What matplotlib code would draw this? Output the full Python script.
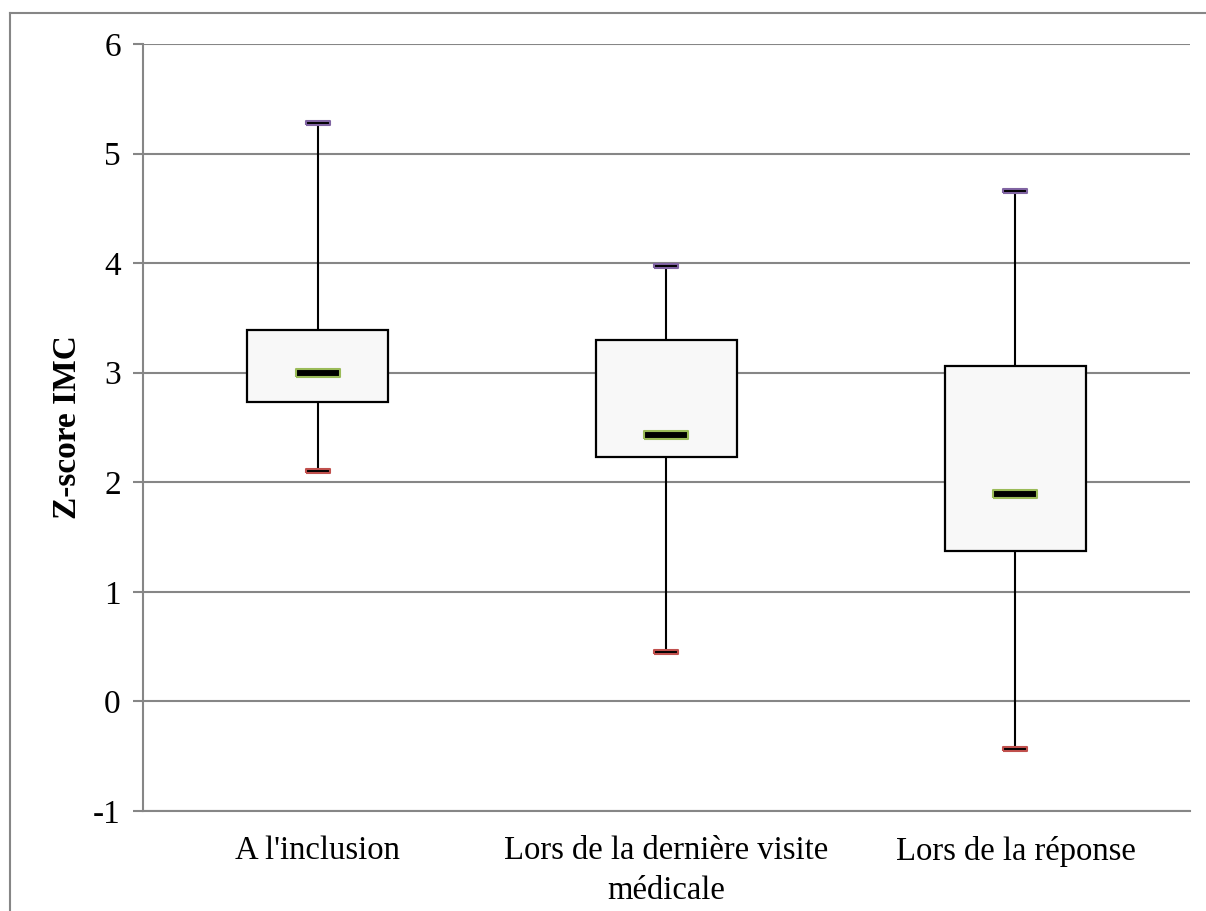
import numpy as np
import matplotlib.pyplot as plt
from matplotlib.lines import Line2D

plt.rcParams['font.family'] = ['Liberation Serif', 'DejaVu Serif']
plt.rcParams['axes.unicode_minus'] = False

# Box-plot summary values (Z-score IMC)
categories = ["A l'inclusion", "Lors de la dernière visite\nmédicale", "Lors de la réponse"]
maxs = [5.28, 3.97, 4.66]
q3s = [3.39, 3.30, 3.06]
medians = [3.00, 2.43, 1.89]
q1s = [2.73, 2.23, 1.37]
mins = [2.10, 0.45, -0.43]

fig = plt.figure(figsize=(12.06, 9.11), dpi=100)
ax = fig.add_axes([0.1186, 0.1098, 0.8681, 0.8419])

x = np.arange(len(categories))

# grid
ax.set_axisbelow(True)
ax.yaxis.grid(True, color='#868686', linewidth=1.5)

# whiskers
ax.vlines(x, mins, maxs, color='black', linewidth=1.5, zorder=2)

# boxes
ax.bar(x, np.array(q3s) - np.array(q1s), bottom=q1s, width=0.405,
       color='#F8F8F8', edgecolor='black', linewidth=1.6, zorder=3)

# marker shapes
med_marker = [(-1, -0.2), (1, -0.2), (1, 0.2), (-1, 0.2), (-1, -0.2)]
cap_marker = [(-1, -0.15), (1, -0.15), (1, 0.15), (-1, 0.15), (-1, -0.15)]

ax.scatter(x, medians, marker=med_marker, s=32**2, facecolor='black',
           edgecolor='#9BBB59', linewidth=1.5, zorder=4)
ax.scatter(x, maxs, marker=cap_marker, s=17**2, facecolor='black',
           edgecolor='#8064A2', linewidth=1.5, zorder=4)
ax.scatter(x, mins, marker=cap_marker, s=17**2, facecolor='black',
           edgecolor='#C0504D', linewidth=1.5, zorder=4)

ax.set_xlim(-0.5, 2.5)
ax.set_ylim(-1, 6)
ax.set_yticks(range(-1, 7))
ax.set_xticks(x)
ax.set_xticklabels(categories, fontsize=23.5, linespacing=1.38)
ax.tick_params(axis='x', length=0, pad=18)
ax.tick_params(axis='y', labelsize=24, length=7, width=1.5, color='#868686', pad=9)

for side in ['top', 'right']:
    ax.spines[side].set_visible(False)
for side in ['left', 'bottom']:
    ax.spines[side].set_color('#868686')
    ax.spines[side].set_linewidth(1.5)

ax.set_ylabel('Z-score IMC', fontsize=24, fontweight='bold', labelpad=7)

# outer chart frame (partly cropped in the reference)
fig.add_artist(Line2D([10 / 1206, 1.0], [1 - 13 / 911, 1 - 13 / 911],
                      color='#868686', linewidth=1.5, transform=fig.transFigure))
fig.add_artist(Line2D([10 / 1206, 10 / 1206], [0.0, 1 - 13 / 911],
                      color='#868686', linewidth=1.5, transform=fig.transFigure))

fig.savefig('out.png', dpi=100)
